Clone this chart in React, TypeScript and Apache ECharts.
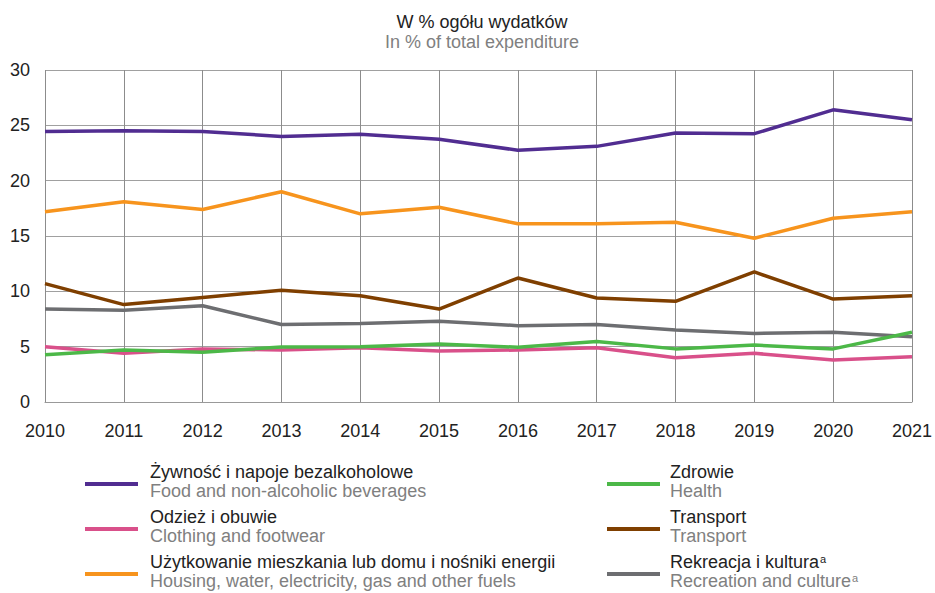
import React, { useEffect, useRef } from "react";
import * as echarts from "echarts";

const years = ["2010", "2011", "2012", "2013", "2014", "2015", "2016", "2017", "2018", "2019", "2020", "2021"];

const food = [24.45, 24.5, 24.45, 24.0, 24.2, 23.75, 22.75, 23.1, 24.3, 24.25, 26.4, 25.5];
const clothing = [5.0, 4.4, 4.8, 4.7, 4.9, 4.6, 4.7, 4.9, 4.0, 4.4, 3.8, 4.1];
const housing = [17.2, 18.1, 17.4, 19.0, 17.0, 17.6, 16.1, 16.1, 16.25, 14.8, 16.6, 17.2];
const health = [4.27, 4.7, 4.5, 4.97, 5.0, 5.24, 4.95, 5.47, 4.8, 5.15, 4.8, 6.3];
const transport = [10.7, 8.8, 9.45, 10.1, 9.6, 8.4, 11.2, 9.4, 9.1, 11.75, 9.3, 9.6];
const recreation = [8.4, 8.3, 8.7, 7.0, 7.1, 7.3, 6.9, 7.0, 6.5, 6.2, 6.3, 5.9];

const seriesDefs = [
  { pl: "Żywność i napoje bezalkoholowe", en: "Food and non-alcoholic beverages", data: food, color: "#512d91", sup: false },
  { pl: "Odzież i obuwie", en: "Clothing and footwear", data: clothing, color: "#d9508a", sup: false },
  { pl: "Użytkowanie mieszkania lub domu i nośniki energii", en: "Housing, water, electricity, gas and other fuels", data: housing, color: "#f7941d", sup: false },
  { pl: "Zdrowie", en: "Health", data: health, color: "#4cb848", sup: false },
  { pl: "Transport", en: "Transport", data: transport, color: "#7f3f00", sup: false },
  { pl: "Rekreacja i kultura", en: "Recreation and culture", data: recreation, color: "#6d6e71", sup: true },
];

// draw order: food, housing, transport, recreation, clothing, health
const drawOrder = [0, 2, 4, 5, 1, 3];

const FONT = "'Liberation Sans', Arial, sans-serif";
const FS = 18;

export default function App() {
  const ref = useRef<HTMLDivElement>(null);
  useEffect(() => {
    if (!ref.current) return;
    const chart = echarts.init(ref.current, undefined, { renderer: "svg" });

    const legendGraphics: any[] = [];
    seriesDefs.forEach((s, i) => {
      const col = i < 3 ? 0 : 1;
      const row = i % 3;
      const lx = col === 0 ? 85 : 607;
      const tx = col === 0 ? 150 : 670;
      const ly = 484 + row * 45;
      legendGraphics.push({
        type: "line",
        shape: { x1: lx, y1: ly, x2: lx + 53, y2: ly },
        style: { stroke: s.color, lineWidth: 4 },
      });
      const mk = (txt: string, color: string, y: number) => ({
        type: "text",
        x: tx,
        y,
        style: {
          text: s.sup ? `{a|${txt}}{sup|a}` : txt,
          fill: color,
          font: `${FS}px ${FONT}`,
          verticalAlign: "middle",
          rich: s.sup
            ? {
                a: { fontSize: FS, fontFamily: FONT, fill: color },
                sup: { fontSize: 11, fontFamily: FONT, fill: color, verticalAlign: "top", padding: [0, 0, 7, 1] },
              }
            : undefined,
        },
      });
      legendGraphics.push(mk(s.pl, "#222222", ly - 12));
      legendGraphics.push(mk(s.en, "#808080", ly + 7));
    });

    chart.setOption({
      animation: false,
      backgroundColor: "#ffffff",
      title: {
        text: "W % ogółu wydatków",
        subtext: "In % of total expenditure",
        left: 477,
        textAlign: "center",
        top: 8,
        itemGap: 2,
        textStyle: { fontFamily: FONT, fontSize: FS, fontWeight: "normal", color: "#222222" },
        subtextStyle: { fontFamily: FONT, fontSize: FS, color: "#808080" },
      },
      grid: { left: 45, right: 21, top: 70, bottom: 191, containLabel: false },
      xAxis: {
        type: "category",
        data: years,
        boundaryGap: false,
        axisLine: { show: true, lineStyle: { color: "#999999", width: 1 } },
        axisTick: { show: false },
        axisLabel: { color: "#222222", fontSize: FS, fontFamily: FONT, margin: 20 },
        splitLine: { show: true, lineStyle: { color: "#8c8c8c", width: 1 } },
      },
      yAxis: {
        type: "value",
        min: 0,
        max: 30,
        interval: 5,
        axisLine: { show: false },
        axisTick: { show: false },
        axisLabel: { color: "#222222", fontSize: FS, fontFamily: FONT, margin: 15 },
        splitLine: { show: true, lineStyle: { color: "#a0a0a0", width: 1 } },
      },
      series: drawOrder.map((i) => {
        const s = seriesDefs[i];
        return {
          type: "line",
          name: s.en,
          data: s.data,
          symbol: "none",
          lineStyle: { color: s.color, width: 3.5 },
          itemStyle: { color: s.color },
        };
      }),
      graphic: legendGraphics,
    });

    return () => chart.dispose();
  }, []);

  return <div ref={ref} style={{ width: 935, height: 593, position: "absolute", left: 0, top: 0 }} />;
}
